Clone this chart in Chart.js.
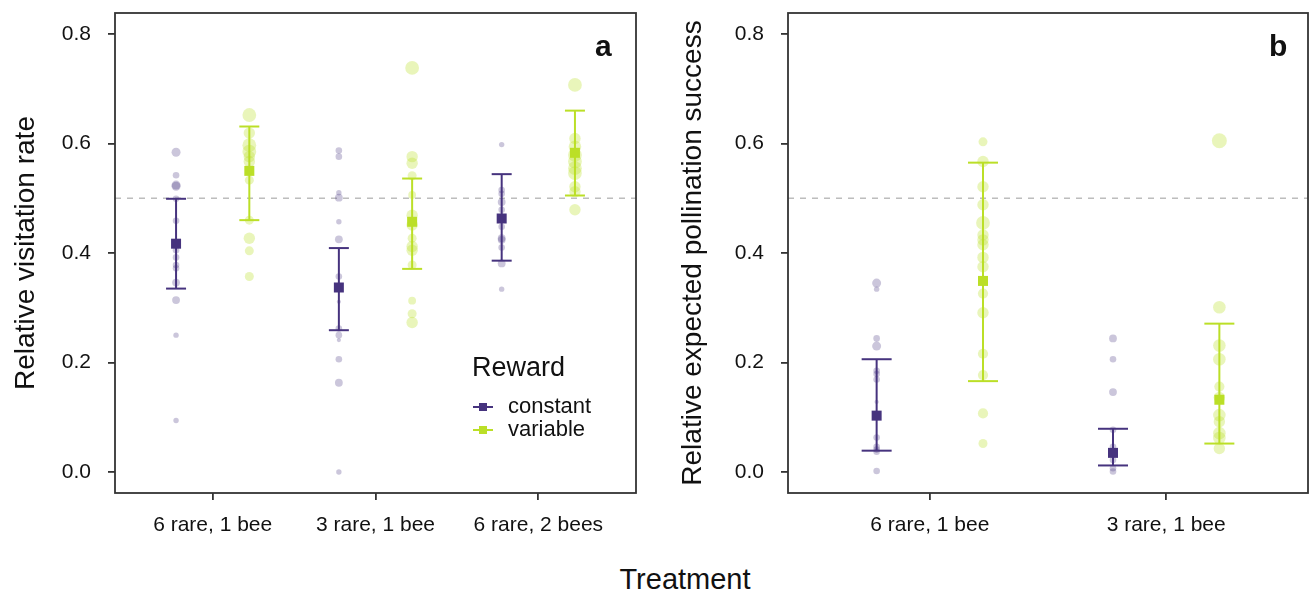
<!DOCTYPE html>
<html>
<head>
<meta charset="utf-8">
<script src="https://cdn.jsdelivr.net/npm/chart.js@4/dist/chart.umd.min.js"></script>
<style>
  html, body { margin: 0; padding: 0; background: #fff; }
  body { width: 1310px; height: 594px; position: relative; overflow: hidden; font-family: "Liberation Sans", Arial, sans-serif; color: #111; }
  .abs { position: absolute; line-height: 1; white-space: nowrap; }
  #wa { position: absolute; left: 0; top: 0; width: 667px; height: 560px; }
  #wb { position: absolute; left: 667px; top: 0; width: 643px; height: 560px; }
  .key { position: absolute; width: 20px; height: 2px; }
  .key i { position: absolute; left: 6px; top: -3px; width: 8px; height: 8px; }
</style>
</head>
<body>
<div id="wa"><canvas id="ca" width="667" height="560"></canvas></div>
<div id="wb"><canvas id="cb" width="643" height="560"></canvas></div>

<div class="abs" style="left:595px; top:31px; font-size:30px; font-weight:bold;">a</div>
<div class="abs" style="left:1269px; top:31px; font-size:30px; font-weight:bold;">b</div>
<div class="abs" style="left:685px; top:565px; font-size:29px; transform:translateX(-50%);">Treatment</div>

<div class="abs" style="left:472px; top:354px; font-size:27px;">Reward</div>
<div class="key" style="left:473px; top:406px; background:#46337E;"><i style="background:#46337E"></i></div>
<div class="abs" style="left:508px; top:395px; font-size:22px;">constant</div>
<div class="key" style="left:473px; top:429px; background:#BBDF27;"><i style="background:#BBDF27"></i></div>
<div class="abs" style="left:508px; top:418px; font-size:22px;">variable</div>

<script>
// ---------------- DATA ----------------
const categoriesA = ['6 rare, 1 bee', '3 rare, 1 bee', '6 rare, 2 bees'];
const categoriesB = ['6 rare, 1 bee', '3 rare, 1 bee'];
const yTicks = [0, 0.2, 0.4, 0.6, 0.8];
const rewardLevels = ['constant', 'variable'];
const refLine = 0.5;

// Panel a: relative visitation rate (individual observations, per treatment)
const visitConst = [
  [0.584, 0.542, 0.524, 0.522, 0.499, 0.459, 0.405, 0.392, 0.378, 0.372, 0.346, 0.314, 0.250, 0.094],
  [0.587, 0.576, 0.510, 0.501, 0.457, 0.425, 0.357, 0.311, 0.262, 0.250, 0.241, 0.206, 0.163, 0.000],
  [0.598, 0.515, 0.508, 0.493, 0.479, 0.448, 0.427, 0.424, 0.410, 0.381, 0.334]
];
const visitConstN = [
  [5, 3, 5, 5, 3, 3, 3, 3, 3, 3, 4, 4, 2, 2],
  [3, 3, 2, 4, 2, 4, 3, 1, 3, 3, 1, 3, 4, 2],
  [2, 3, 3, 4, 3, 3, 4, 4, 3, 4, 2]
];
const visitVar = [
  [0.652, 0.619, 0.597, 0.585, 0.576, 0.567, 0.533, 0.460, 0.427, 0.404, 0.357],
  [0.738, 0.576, 0.564, 0.541, 0.506, 0.469, 0.451, 0.427, 0.412, 0.405, 0.378, 0.313, 0.289, 0.273],
  [0.707, 0.609, 0.594, 0.579, 0.567, 0.555, 0.546, 0.521, 0.512, 0.479]
];
const visitVarN = [
  [9, 7, 9, 9, 7, 7, 5, 5, 7, 5, 5],
  [9, 7, 7, 5, 4, 7, 7, 5, 7, 7, 5, 4, 5, 7],
  [9, 7, 8, 9, 9, 9, 9, 7, 7, 7]
];
const visitConstMean = [0.417, 0.337, 0.463];
const visitConstLo   = [0.335, 0.259, 0.386];
const visitConstHi   = [0.499, 0.409, 0.544];
const visitVarMean   = [0.550, 0.457, 0.583];
const visitVarLo     = [0.460, 0.371, 0.505];
const visitVarHi     = [0.631, 0.536, 0.660];

// Panel b: relative expected pollination success
const pollConst = [
  [0.345, 0.334, 0.244, 0.230, 0.185, 0.179, 0.169, 0.128, 0.063, 0.046, 0.041, 0.037, 0.002],
  [0.244, 0.206, 0.146, 0.077, 0.046, 0.022, 0.007, 0.001]
];
const pollConstN = [
  [5, 2, 3, 5, 3, 3, 3, 1, 3, 3, 3, 3, 3],
  [4, 3, 4, 3, 3, 3, 3, 3]
];
const pollVar = [
  [0.603, 0.567, 0.521, 0.488, 0.455, 0.433, 0.424, 0.415, 0.392, 0.375, 0.326, 0.291, 0.216, 0.177, 0.107, 0.052],
  [0.605, 0.301, 0.231, 0.206, 0.156, 0.136, 0.104, 0.092, 0.071, 0.062, 0.043]
];
const pollVarN = [
  [5, 7, 7, 7, 9, 7, 7, 7, 7, 7, 6, 7, 6, 6, 6, 5],
  [10, 8, 8, 8, 6, 7, 8, 7, 8, 8, 7]
];
const pollConstMean = [0.103, 0.035];
const pollConstLo   = [0.039, 0.012];
const pollConstHi   = [0.206, 0.079];
const pollVarMean   = [0.349, 0.132];
const pollVarLo     = [0.166, 0.052];
const pollVarHi     = [0.565, 0.271];

// ---------------- STYLE ----------------
const FONT = '"Liberation Sans", Arial, sans-serif';
const colConst = '#46337E';
const colVar = '#BBDF27';
const dotConst = 'rgba(70,51,126,0.28)';
const dotVar = 'rgba(187,223,39,0.32)';
const dodge = 0.225;
const axisCol = '#333333';
const sizeToRadius = n => 1.5 + 0.6 * n;

const framePlugin = {
  id: 'frame',
  afterDraw(chart) {
    const a = chart.chartArea, ctx = chart.ctx;
    ctx.save();
    ctx.strokeStyle = axisCol;
    ctx.lineWidth = 1.8;
    ctx.strokeRect(a.left, a.top, a.right - a.left, a.bottom - a.top);
    ctx.restore();
  }
};

function noPad(sc) { sc.paddingTop = 0; sc.paddingBottom = 0; sc.paddingLeft = 0; sc.paddingRight = 0; }

function buildChart(canvasId, cats, constVals, constN, varVals, varN,
                    cMean, cLo, cHi, vMean, vLo, vHi, yTitle, axisW, padRight, capR) {
  const xmin = 0.4, xmax = cats.length + 0.6;
  const datasets = [];
  // reference line
  datasets.push({
    type: 'line', data: [{x: xmin, y: refLine}, {x: xmax, y: refLine}],
    borderColor: '#bdbdbd', borderWidth: 1.5, borderDash: [6, 6],
    pointRadius: 0, order: 10
  });
  // raw observations
  const series = [
    {vals: constVals, n: constN, off: -dodge, dot: dotConst, col: colConst, mean: cMean, lo: cLo, hi: cHi},
    {vals: varVals, n: varN, off: dodge, dot: dotVar, col: colVar, mean: vMean, lo: vLo, hi: vHi}
  ];
  series.forEach(s => {
    const pts = [], rad = [];
    s.vals.forEach((g, gi) => g.forEach((v, vi) => { pts.push({x: gi + 1 + s.off, y: v}); rad.push(sizeToRadius(s.n[gi][vi])); }));
    datasets.push({
      type: 'scatter', data: pts, backgroundColor: s.dot, borderWidth: 0,
      pointRadius: rad, pointHoverRadius: rad, order: 8
    });
  });
  // error bars
  series.forEach(s => {
    s.mean.forEach((m, gi) => {
      const x = gi + 1 + s.off;
      datasets.push({
        type: 'line', data: [{x: x, y: s.lo[gi]}, {x: x, y: s.hi[gi]}],
        borderColor: s.col, borderWidth: 2, pointStyle: 'line',
        pointRadius: capR, pointBorderColor: s.col, pointBorderWidth: 2,
        pointHoverRadius: capR, order: 4
      });
    });
  });
  // means
  series.forEach(s => {
    datasets.push({
      type: 'scatter', data: s.mean.map((m, gi) => ({x: gi + 1 + s.off, y: m})),
      pointStyle: 'rect', pointRadius: 7.07, pointHoverRadius: 7.07,
      backgroundColor: s.col, borderWidth: 0, order: 1
    });
  });

  return new Chart(document.getElementById(canvasId), {
    type: 'scatter',
    data: {datasets},
    options: {
      responsive: false, animation: false, devicePixelRatio: 1,
      layout: {autoPadding: false, padding: {left: 0, top: 13, right: padRight, bottom: 0}},
      plugins: {legend: {display: false}, tooltip: {enabled: false}},
      scales: {
        x: {
          type: 'linear', min: xmin, max: xmax,
          afterBuildTicks: sc => { sc.ticks = cats.map((c, i) => ({value: i + 1})); },
          afterFit: sc => { sc.height = 67; noPad(sc); },
          ticks: {
            callback: v => cats[Math.round(v) - 1],
            autoSkip: false, maxRotation: 0, padding: 13,
            color: '#111', font: {family: FONT, size: 21}
          },
          grid: {drawOnChartArea: false, drawTicks: true, tickLength: 7, color: axisCol, lineWidth: 1.8},
          border: {display: false}
        },
        y: {
          type: 'linear', min: -0.0383, max: 0.8383,
          afterBuildTicks: sc => { sc.ticks = yTicks.map(v => ({value: v})); },
          afterFit: sc => { sc.width = axisW; noPad(sc); },
          ticks: {
            callback: v => v.toFixed(1), padding: 17,
            color: '#111', font: {family: FONT, size: 21}
          },
          grid: {drawOnChartArea: false, drawTicks: true, tickLength: 7, color: axisCol, lineWidth: 1.8},
          border: {display: false},
          title: {display: true, text: yTitle, color: '#111', font: {family: FONT, size: 28}, padding: {top: 9, bottom: 0}}
        }
      }
    },
    plugins: [framePlugin]
  });
}

buildChart('ca', categoriesA, visitConst, visitConstN, visitVar, visitVarN,
  visitConstMean, visitConstLo, visitConstHi, visitVarMean, visitVarLo, visitVarHi,
  'Relative visitation rate', 115, 31, 10);
buildChart('cb', categoriesB, pollConst, pollConstN, pollVar, pollVarN,
  pollConstMean, pollConstLo, pollConstHi, pollVarMean, pollVarLo, pollVarHi,
  'Relative expected pollination success', 121, 2, 15);
</script>
</body>
</html>
